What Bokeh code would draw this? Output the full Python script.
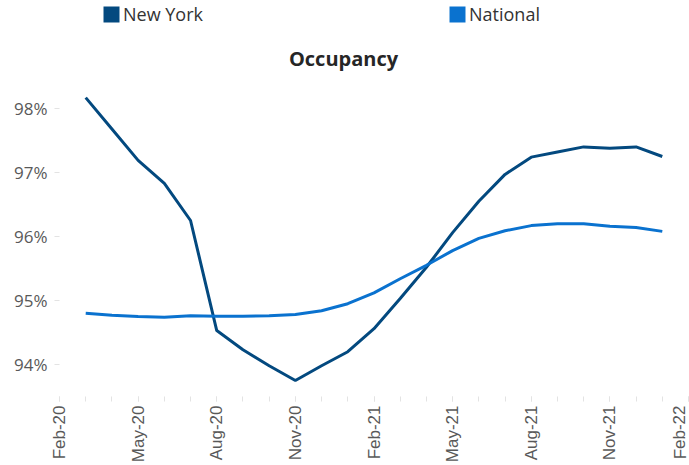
from bokeh.plotting import figure
from bokeh.models import (FixedTicker, Legend, LegendItem, Label, Range1d,
                          PrintfTickFormatter, ColumnDataSource)
from bokeh.embed import file_html
from bokeh.resources import INLINE

# ---- data ----
axis_months = ["Feb-20", "Mar-20", "Apr-20", "May-20", "Jun-20", "Jul-20", "Aug-20",
               "Sep-20", "Oct-20", "Nov-20", "Dec-20", "Jan-21", "Feb-21", "Mar-21",
               "Apr-21", "May-21", "Jun-21", "Jul-21", "Aug-21", "Sep-21", "Oct-21",
               "Nov-21", "Dec-21", "Jan-22", "Feb-22"]
tick_labels = ["Feb-20", "May-20", "Aug-20", "Nov-20", "Feb-21", "May-21",
               "Aug-21", "Nov-21", "Feb-22"]
y_ticks = [94, 95, 96, 97, 98]
months = axis_months[1:24]  # Mar-20 .. Jan-22

new_york = [98.17, 97.68, 97.19, 96.83, 96.25, 94.53, 94.23, 93.98, 93.75, 93.98,
            94.20, 94.56, 95.03, 95.52, 96.06, 96.55, 96.97, 97.24, 97.32, 97.40,
            97.38, 97.40, 97.25]
national = [94.80, 94.77, 94.75, 94.74, 94.76, 94.755, 94.755, 94.76, 94.78, 94.84,
            94.95, 95.12, 95.34, 95.55, 95.78, 95.97, 96.09, 96.17, 96.20, 96.20,
            96.16, 96.14, 96.08]

ny_color = "#03497F"
nat_color = "#0A72CF"

x = [axis_months.index(m) for m in months]
src = ColumnDataSource(dict(x=x, ny=new_york, nat=national))

# plot frame runs to the top edge; the value range above 98.5% leaves room
# for the legend and the title
p = figure(width=689, height=465, output_backend="svg", toolbar_location=None,
           x_range=Range1d(0, len(axis_months) - 1),
           y_range=Range1d(93.5, 98.5 + 76 / 64),
           min_border_left=59, min_border_right=1, min_border_top=0,
           min_border_bottom=69)
p.outline_line_color = None
p.xgrid.visible = False
p.ygrid.visible = False

r_ny = p.line("x", "ny", source=src, line_color=ny_color, line_width=3)
r_nat = p.line("x", "nat", source=src, line_color=nat_color, line_width=3)

# legend swatches: square glyphs with no drawable extent (NaN), only for the legend
nan = float("nan")
sw_ny = p.quad(left=[nan], right=[nan], top=[nan], bottom=[nan],
               fill_color=ny_color, line_color=None)
sw_nat = p.quad(left=[nan], right=[nan], top=[nan], bottom=[nan],
                fill_color=nat_color, line_color=None)

# x axis
tick_idx = [axis_months.index(t) for t in tick_labels]
xa = p.xaxis[0]
xa.ticker = FixedTicker(ticks=tick_idx, minor_ticks=list(range(len(axis_months))))
xa.major_label_overrides = {i: t for i, t in zip(tick_idx, tick_labels)}
xa.major_label_orientation = 1.5708
xa.axis_line_color = None
xa.major_tick_line_color = "#e3e3e3"
xa.minor_tick_line_color = "#e3e3e3"
xa.major_tick_in = 0
xa.major_tick_out = 5
xa.minor_tick_in = 0
xa.minor_tick_out = 5
xa.major_label_standoff = 4
xa.major_label_text_font = "Liberation Sans"
xa.major_label_text_font_size = "17px"
xa.major_label_text_color = "#595959"

# y axis
ya = p.yaxis[0]
ya.ticker = FixedTicker(ticks=y_ticks)
ya.formatter = PrintfTickFormatter(format="%d%%")
ya.axis_line_color = None
ya.major_tick_line_color = "#e3e3e3"
ya.major_tick_in = 0
ya.major_tick_out = 5
ya.minor_tick_line_color = None
ya.major_label_standoff = 7
ya.major_label_text_font = "Open Sans"
ya.major_label_text_font_size = "17px"
ya.major_label_text_color = "#595959"

legend = Legend(items=[LegendItem(label="New York", renderers=[sw_ny]),
                       LegendItem(label="National", renderers=[sw_nat])],
                orientation="horizontal", location=(42, 370),
                glyph_width=20, glyph_height=20, label_standoff=2, spacing=244,
                padding=0, margin=0, border_line_color=None,
                background_fill_alpha=0, label_text_font="Open Sans",
                label_text_font_size="18px", label_text_color="#333333")
p.add_layout(legend, "center")

title = Label(x=284, y=338, x_units="screen", y_units="screen", text="Occupancy",
              text_align="center", text_baseline="middle", text_font="Open Sans",
              text_font_size="20px", text_font_style="bold", text_color="#262626")
p.add_layout(title)

open("out.html", "w").write(file_html(p, INLINE))
